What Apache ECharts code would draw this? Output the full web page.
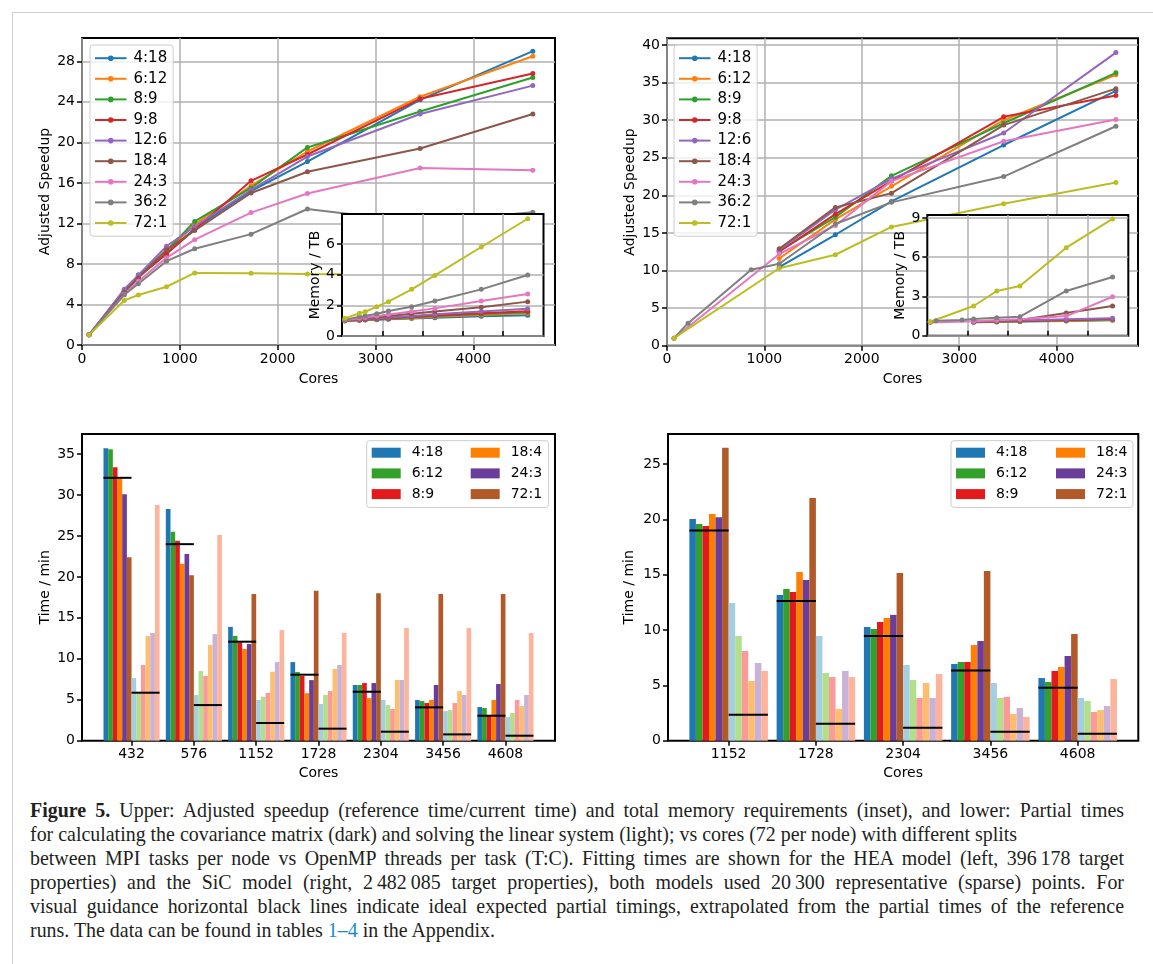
<!DOCTYPE html>
<html><head><meta charset="utf-8">
<script src="https://cdn.jsdelivr.net/npm/echarts@6/dist/echarts.min.js"></script>
<style>
html,body{margin:0;padding:0;background:#fff;}
#frame{position:absolute;left:12px;top:12px;width:1141px;height:952px;border-left:1px solid #cfcfcf;border-top:1px solid #cfcfcf;box-sizing:border-box;}
#chart{position:absolute;left:0;top:0;width:1153px;height:790px;}
#cap{position:absolute;left:30px;top:798px;width:1100px;font-family:"Liberation Serif",serif;font-size:20px;line-height:24px;color:#231f20;}
#cap .ln{white-space:nowrap;height:24px;}
#cap b{font-weight:bold;}
#cap .ref{color:#1b8ac9;}
</style></head>
<body>
<div id="frame"></div>
<div id="chart"></div>
<div id="cap">
<div class="ln j"><span class="m"><b>Figure 5.</b> Upper: Adjusted speedup (reference time/current time) and total memory requirements (inset), and lower: Partial times</span></div>
<div class="ln"><span class="m">for calculating the covariance matrix (dark) and solving the linear system (light); vs cores (72 per node) with different splits</span></div>
<div class="ln j"><span class="m">between MPI tasks per node vs OpenMP threads per task (T:C). Fitting times are shown for the HEA model (left, 396&thinsp;178 target</span></div>
<div class="ln j"><span class="m">properties) and the SiC model (right, 2&thinsp;482&thinsp;085 target properties), both models used 20&thinsp;300 representative (sparse) points. For</span></div>
<div class="ln j"><span class="m">visual guidance horizontal black lines indicate ideal expected partial timings, extrapolated from the partial times of the reference</span></div>
<div class="ln"><span class="m">runs. The data can be found in tables <span class="ref">1–4</span> in the Appendix.</span></div>
</div>
<script>
// ---------- data ----------
const splits = ['4:18','6:12','8:9','9:8','12:6','18:4','24:3','36:2','72:1'];
const lineColors = ['#1f77b4','#ff7f0e','#2ca02c','#d62728','#9467bd','#8c564b','#e377c2','#7f7f7f','#bcbd22'];

const heaCores = [72, 432, 576, 864, 1152, 1728, 2304, 3456, 4608];
const heaSpeedup = [
  [1.0, 5.3, 6.8, 9.0, 11.5, 15.2, 18.1, 24.2, 29.0],
  [1.0, 5.4, 6.8, 9.2, 11.9, 15.7, 19.1, 24.5, 28.5],
  [1.0, 5.3, 6.9, 9.3, 12.2, 15.5, 19.5, 23.05, 26.4],
  [1.0, 5.2, 6.7, 9.0, 11.4, 16.2, 18.8, 24.3, 26.8],
  [1.0, 5.5, 6.9, 9.75, 11.7, 15.3, 18.6, 22.8, 25.6],
  [1.0, 5.2, 6.6, 9.4, 11.3, 15.0, 17.1, 19.4, 22.8],
  [1.0, 5.0, 6.3, 8.6, 10.4, 13.07, 14.95, 17.46, 17.25],
  [1.0, 4.96, 6.05, 8.27, 9.5, 10.94, 13.42, 12.1, 13.1],
  [1.0, 4.4, 4.93, 5.75, 7.11, 7.07, 7.0, 6.9, 6.8]
];
const heaMemory = [
  [1.0, 1.03, 1.04, 1.06, 1.09, 1.14, 1.19, 1.28, 1.35],
  [1.0, 1.04, 1.06, 1.09, 1.12, 1.18, 1.25, 1.37, 1.48],
  [1.0, 1.05, 1.07, 1.10, 1.14, 1.22, 1.30, 1.43, 1.55],
  [1.0, 1.05, 1.08, 1.12, 1.16, 1.25, 1.33, 1.48, 1.62],
  [1.01, 1.07, 1.10, 1.15, 1.20, 1.30, 1.42, 1.60, 1.78],
  [1.02, 1.10, 1.15, 1.22, 1.30, 1.45, 1.60, 1.87, 2.24],
  [1.03, 1.15, 1.20, 1.30, 1.40, 1.60, 1.80, 2.28, 2.74],
  [1.05, 1.25, 1.30, 1.45, 1.63, 1.91, 2.28, 3.04, 3.97],
  [1.15, 1.48, 1.58, 1.91, 2.24, 3.04, 3.95, 5.80, 7.64]
];

const sicCores = [72, 216, 864, 1152, 1728, 2304, 3456, 4608];
const sicSpeedup = [
  [null, null, null, 10.45, 14.76, 19.2, 26.7, 33.9],
  [null, null, null, 11.6, 16.8, 21.2, 30.0, 36.05],
  [null, null, null, 12.6, 17.1, 22.6, 29.6, 36.3],
  [null, null, null, 12.5, 17.5, 21.9, 30.45, 33.3],
  [null, null, null, 12.7, 18.1, 22.2, 28.3, 39.0],
  [null, null, null, 12.9, 18.4, 20.3, 29.35, 34.2],
  [1.0, null, null, 12.2, 16.0, 21.9, 27.2, 30.1],
  [1.0, 2.98, 10.1, 10.9, 16.2, 19.07, 22.5, 29.2],
  [1.0, null, null, 10.3, 12.1, 15.8, 18.9, 21.7]
];
const sicMemory = [
  [null, null, null, 1.03, 1.05, 1.08, 1.12, 1.18],
  [null, null, null, 1.04, 1.07, 1.10, 1.15, 1.22],
  [null, null, null, 1.05, 1.08, 1.11, 1.18, 1.25],
  [null, null, null, 1.06, 1.10, 1.13, 1.20, 1.28],
  [null, null, null, 1.08, 1.12, 1.16, 1.25, 1.33],
  [null, null, null, 1.10, 1.15, 1.20, 1.74, 2.27],
  [1.0, null, null, 1.10, 1.18, 1.25, 1.50, 2.98],
  [1.05, 1.15, 1.20, 1.28, 1.38, 1.45, 3.42, 4.49],
  [1.07, null, null, 2.27, 3.42, 3.80, 6.73, 8.93]
];

const barSplits = ['4:18','6:12','8:9','18:4','24:3','72:1'];
const darkColors = ['#1f78b4','#33a02c','#e31a1c','#ff7f00','#6a3d9a','#b15928'];
const lightColors = ['#a6cee3','#b2df8a','#fb9a99','#fdbf6f','#cab2d6','#fdb49c'];

const heaBarCats = ['432','576','1152','1728','2304','3456','4608'];
const heaCov = [
  [35.7, 28.3, 13.9, 9.6, 6.8, 4.97, 4.11],
  [35.6, 25.5, 12.8, 8.4, 6.8, 4.84, 3.99],
  [33.4, 24.4, 12.0, 7.9, 7.04, 4.6, 3.05],
  [32.0, 21.6, 11.2, 5.8, 5.2, 4.97, 4.97],
  [30.1, 22.8, 11.8, 7.4, 7.04, 6.8, 6.92],
  [22.4, 20.2, 17.9, 18.3, 18.0, 17.9, 17.9]
];
const heaSolve = [
  [7.65, 5.58, 4.97, 4.48, 4.97, 3.62, 2.89],
  [5.8, 8.5, 5.37, 5.58, 4.35, 3.74, 3.38],
  [9.24, 7.9, 5.82, 6.06, 3.87, 4.6, 4.97],
  [12.78, 11.68, 8.42, 8.75, 7.41, 6.06, 4.23],
  [13.15, 13.02, 9.6, 9.24, 7.41, 5.58, 5.58],
  [28.77, 25.11, 13.51, 13.15, 13.76, 13.76, 13.15]
];
const heaIdealCov = [32.1, 24.0, 12.09, 8.06, 5.98, 4.07, 3.05];
const heaIdealSolve = [5.86, 4.35, 2.16, 1.47, 1.1, 0.77, 0.61];

const sicBarCats = ['1152','1728','2304','3456','4608'];
const sicCov = [
  [20.03, 13.16, 10.27, 6.93, 5.66],
  [19.58, 13.7, 10.09, 7.11, 5.3],
  [19.4, 13.43, 10.72, 7.11, 6.3],
  [20.48, 15.24, 11.08, 8.64, 6.66],
  [20.18, 14.52, 11.36, 9.0, 7.65],
  [26.45, 21.93, 15.15, 15.33, 9.64]
];
const sicSolve = [
  [12.44, 9.46, 6.84, 5.21, 3.86],
  [9.46, 6.11, 5.48, 3.86, 3.58],
  [8.1, 5.75, 3.86, 3.95, 2.59],
  [5.39, 2.86, 5.21, 2.41, 2.77],
  [7.02, 6.3, 3.86, 2.95, 3.13],
  [6.3, 5.75, 6.02, 2.14, 5.57]
];
const sicIdealCov = [18.98, 12.62, 9.46, 6.33, 4.79];
const sicIdealSolve = [2.35, 1.54, 1.17, 0.81, 0.63];

const coreTicks = [0, 1000, 2000, 3000, 4000];
const insetCoreTicks = [1000, 2000, 3000, 4000];
const heaSpeedTicks = [0, 4, 8, 12, 16, 20, 24, 28];
const sicSpeedTicks = [0, 5, 10, 15, 20, 25, 30, 35, 40];
const heaMemTicks = [0, 2, 4, 6];
const sicMemTicks = [0, 3, 6, 9];
const heaTimeTicks = [0, 5, 10, 15, 20, 25, 30, 35];
const sicTimeTicks = [0, 5, 10, 15, 20, 25];

// ---------- styling helpers ----------
const FONT = 'DejaVu Sans';
const txt = {fontSize: 14, fontFamily: FONT, color: '#000'};
const BW = 0.075;

function grid(left, top, width, height, z, bg) {
  return {left, top, width, height, show: true, borderColor: '#000', borderWidth: 2,
          backgroundColor: bg || 'transparent', z: z || 0, containLabel: false};
}
function valueAxis(opts) {
  const o = {
    type: 'value', gridIndex: opts.grid, min: opts.min, max: opts.max,
    z: opts.z || 0,
    axisLine: {show: false, onZero: false},
    axisTick: {show: true, inside: !!opts.tickInside, length: 5, lineStyle: {color: '#000', width: 1.5},
               customValues: opts.ticks},
    axisLabel: opts.noLabel ? {show: false} : Object.assign({show: true, margin: 7, customValues: opts.ticks,
               showMinLabel: true, showMaxLabel: true, formatter: opts.fmt || (v => String(v))}, txt),
    splitLine: {show: !!opts.split, lineStyle: {color: '#b0b0b0', width: 1.5}},
  };
  if (opts.interval != null) o.interval = opts.interval;
  if (opts.name) {
    o.name = opts.name; o.nameLocation = 'middle'; o.nameGap = opts.nameGap;
    o.nameTextStyle = Object.assign({}, txt);
    if (opts.rotate) o.nameRotate = 90;
  }
  return o;
}

function lineSeries(cores, rows, xi, yi, z) {
  return rows.map((row, s) => ({
    type: 'line', name: splits[s], xAxisIndex: xi, yAxisIndex: yi, z: z,
    data: row.map((v, i) => v == null ? null : [cores[i], v]).filter(d => d),
    symbol: 'circle', symbolSize: 5, showSymbol: true,
    lineStyle: {width: 2, color: lineColors[s]}, itemStyle: {color: lineColors[s]},
    emphasis: {disabled: true}, animation: false, silent: true
  }));
}

function barSeries(prefix, rows, colors, offset0, xi, yi) {
  return rows.map((row, s) => {
    const k = offset0 + s;
    const color = colors[s];
    return {
      type: 'custom', name: prefix + barSplits[s], xAxisIndex: xi, yAxisIndex: yi, z: 2,
      itemStyle: {color: color},
      data: row.map((v, i) => [i, v]),
      renderItem: (params, api) => {
        const xc = api.value(0) + (k - 5.5) * BW;
        const p0 = api.coord([xc - BW / 2, api.value(1)]);
        const p1 = api.coord([xc + BW / 2, 0]);
        return {type: 'rect', shape: {x: p0[0], y: p0[1], width: p1[0] - p0[0], height: p1[1] - p0[1]},
                style: {fill: color}};
      },
      animation: false, silent: true
    };
  });
}
// ideal timings: half-width segments, side -1 = dark half, +1 = light half
function idealSeries(vals, side, xi, yi, nm) {
  return {
    type: 'custom', name: nm, xAxisIndex: xi, yAxisIndex: yi, z: 3,
    data: vals.map((v, i) => [i, v]),
    renderItem: (params, api) => {
      const i = api.value(0), v = api.value(1);
      const a = api.coord([side < 0 ? i - 0.45 : i, v]);
      const b = api.coord([side < 0 ? i : i + 0.45, v]);
      return {type: 'line', shape: {x1: a[0], y1: a[1], x2: b[0], y2: b[1]},
              style: {stroke: '#000', lineWidth: 2, fill: null}};
    },
    animation: false, silent: true
  };
}

function lineLegend(left) {
  return {
    show: true, left: left, top: 45, orient: 'vertical', data: splits,
    itemWidth: 31.5, itemHeight: 7, itemGap: 5.6, selectedMode: false,
    padding: [5.7, 6, 5.7, 4], backgroundColor: 'rgba(255,255,255,0.8)',
    borderColor: '#cccccc', borderWidth: 1, borderRadius: 3,
    textStyle: Object.assign({}, txt, {fontSize: 15, padding: [0, 0, 0, 2]}), z: 4
  };
}
function barLegends(left1, left2) {
  const base = {
    orient: 'vertical', itemWidth: 29, itemHeight: 10, itemGap: 6.7, icon: 'rect', selectedMode: false,
    formatter: n => n.replace(/^d_/, ''), textStyle: Object.assign({padding: [0, 0, 0, 6]}, txt)
  };
  return [
    Object.assign({}, base, {left: left1, top: 440.7, data: barSplits.slice(0, 3).map(s => 'd_' + s),
      padding: [5, 105.5, 6.3, 5], backgroundColor: 'rgba(255,255,255,0.8)', borderColor: '#cccccc',
      borderWidth: 1, borderRadius: 3, z: 4}),
    Object.assign({}, base, {left: left2, top: 445.7, data: barSplits.slice(3).map(s => 'd_' + s),
      padding: 0, z: 5})
  ];
}

// ---------- option ----------
const option = {
  animation: false,
  textStyle: {fontFamily: FONT},
  grid: [
    grid(82, 38, 473, 307, 0),
    grid(342, 214, 201.5, 122, 5, '#fff'),
    grid(667, 38.3, 471, 307.4, 0),
    grid(927.3, 215, 201, 120.7, 5, '#fff'),
    grid(82, 434, 473, 306.7, 0),
    grid(668, 434, 470.3, 306.7, 0)
  ],
  xAxis: [
    valueAxis({grid: 0, min: 0, max: 4835, interval: 1000, ticks: coreTicks, split: true, name: 'Cores', nameGap: 27}),
    valueAxis({grid: 1, min: 0, max: 5000, interval: 1000, ticks: insetCoreTicks, split: true, noLabel: true, tickInside: true, z: 6}),
    valueAxis({grid: 2, min: 0, max: 4835, interval: 1000, ticks: coreTicks, split: true, name: 'Cores', nameGap: 27}),
    valueAxis({grid: 3, min: 0, max: 5000, interval: 1000, ticks: insetCoreTicks, split: true, noLabel: true, tickInside: true, z: 6}),
    valueAxis({grid: 4, min: -0.795, max: 6.795, ticks: heaBarCats.map((c, i) => i), fmt: v => heaBarCats[Math.round(v)], name: 'Cores', nameGap: 26}),
    valueAxis({grid: 5, min: -0.695, max: 4.695, ticks: sicBarCats.map((c, i) => i), fmt: v => sicBarCats[Math.round(v)], name: 'Cores', nameGap: 26})
  ],
  yAxis: [
    valueAxis({grid: 0, min: 0, max: 30.3, interval: 4, ticks: heaSpeedTicks, split: true, name: 'Adjusted Speedup', nameGap: 30, rotate: true}),
    valueAxis({grid: 1, min: 0, max: 7.95, interval: 2, ticks: heaMemTicks, split: true, name: 'Memory / TB', nameGap: 18, rotate: true, z: 6}),
    valueAxis({grid: 2, min: 0, max: 40.9, interval: 5, ticks: sicSpeedTicks, split: true, name: 'Adjusted Speedup', nameGap: 30, rotate: true}),
    valueAxis({grid: 3, min: 0, max: 9.23, interval: 3, ticks: sicMemTicks, split: true, name: 'Memory / TB', nameGap: 18, rotate: true, z: 6}),
    valueAxis({grid: 4, min: 0, max: 37.45, ticks: heaTimeTicks, name: 'Time / min', nameGap: 30, rotate: true}),
    valueAxis({grid: 5, min: 0, max: 27.7, ticks: sicTimeTicks, name: 'Time / min', nameGap: 32, rotate: true})
  ],
  legend: [lineLegend(90), lineLegend(674)].concat(barLegends(366.7, 470.7), barLegends(951, 1056)),
  series: [].concat(
    lineSeries(heaCores, heaSpeedup, 0, 0, 2),
    lineSeries(heaCores, heaMemory, 1, 1, 7),
    lineSeries(sicCores, sicSpeedup, 2, 2, 2),
    lineSeries(sicCores, sicMemory, 3, 3, 7),
    barSeries('d_', heaCov, darkColors, 0, 4, 4),
    barSeries('l_', heaSolve, lightColors, 6, 4, 4),
    [idealSeries(heaIdealCov, -1, 4, 4, 'idealCovHEA'), idealSeries(heaIdealSolve, 1, 4, 4, 'idealSolveHEA')],
    barSeries('d_', sicCov, darkColors, 0, 5, 5),
    barSeries('l_', sicSolve, lightColors, 6, 5, 5),
    [idealSeries(sicIdealCov, -1, 5, 5, 'idealCovSiC'), idealSeries(sicIdealSolve, 1, 5, 5, 'idealSolveSiC')]
  )
};

const chart = echarts.init(document.getElementById('chart'), null, {renderer: 'canvas'});
chart.setOption(option);

// ---------- caption fitting ----------
(function fitCaption() {
  const cap = document.getElementById('cap');
  const lines = cap.querySelectorAll('.ln');
  const m2 = lines[1].querySelector('.m').getBoundingClientRect().width;
  const fs = 20 * 988 / m2;
  cap.style.fontSize = fs + 'px';
  lines.forEach(ln => {
    if (!ln.classList.contains('j')) return;
    const m = ln.querySelector('.m');
    const w = m.getBoundingClientRect().width;
    const n = (m.textContent.match(/ /g) || []).length;
    if (n > 0) ln.style.wordSpacing = ((1094 - w) / n) + 'px';
  });
})();
</script>
</body></html>
